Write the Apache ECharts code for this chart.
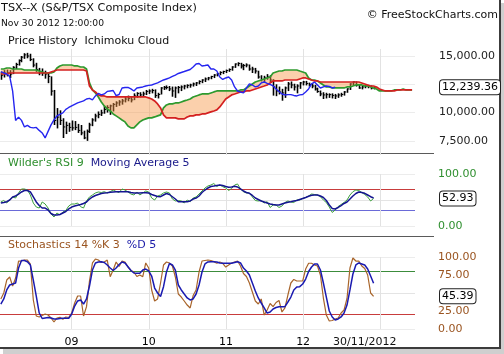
<!DOCTYPE html>
<html><head><meta charset="utf-8">
<script src="https://cdn.jsdelivr.net/npm/echarts@6/dist/echarts.min.js"></script>
<style>html,body{margin:0;padding:0;background:#fff}#c{width:504px;height:354px}</style>
</head><body><div id="c"></div><script>
// ---------- data (bi-weekly samples) ----------
const startDate = '2008-02-01';
const stepDays = 14;
const chikouShift = 13;           // 26 weeks back
const yearTicks = [2009, 2010, 2011, 2012, 2013];
const yearLabels = [2009, 2010, 2011, 2012];
const lastDateLabel = '30/11/2012';

const priceHigh = [13600,13750,13800,13750,14100,14400,14700,15000,15250,15280,
 15200,14800,14400,13950,13900,13700,13500,13200,12000,10400,
 10200,9500,9200,9100,9300,9250,9000,8900,8400,8500,
 9100,9500,9900,10100,10250,10600,10650,10700,10850,11000,
 11100,11200,11400,11500,11450,11700,11800,11800,11850,12000,
 12050,12100,12050,11750,12250,12350,12400,12350,12300,12300,
 12350,12400,12450,12500,12550,12650,12700,12850,12950,13100,
 13150,13250,13400,13500,13650,13700,13800,13900,14100,14350,
 14450,14400,14300,14350,14250,14050,13950,13700,13300,13250,
 13400,13300,12950,12500,12300,12100,12300,12700,12750,12550,
 12500,12700,12800,12800,12650,12600,12450,12200,11950,11800,
 11750,11700,11700,11650,11700,11750,11900,12150,12600,12750,
 12750,12500,12400,12450,12450,12400,12300];
const priceLow = [12900,13100,13200,13050,13400,13850,14150,14450,14750,14800,
 14550,14000,13600,13300,13250,13000,12600,11500,8900,8600,
 8900,7750,8100,8300,8400,8450,8200,8000,7650,7500,
 8200,8800,9200,9500,9700,9900,10000,9800,10100,10500,
 10600,10700,10900,11000,10900,11100,11300,11350,11400,11550,
 11650,11700,11300,11250,11600,12000,12050,11900,11400,11300,
 11700,11900,12050,12150,12200,12300,12350,12500,12600,12700,
 12850,12950,13050,13200,13300,13400,13500,13600,13700,13950,
 14100,13900,13750,14000,13700,13500,13450,13000,12750,12700,
 12900,12700,11500,11450,11600,11050,11300,11900,12150,11950,
 11700,12100,12400,12400,12300,12150,11950,11750,11450,11200,
 11250,11300,11250,11200,11300,11400,11500,11750,12000,12350,
 12300,12100,12050,12150,12150,12050,12050];
const priceClose = [13300,13500,13500,13400,14000,14250,14600,14900,15100,15000,
 14700,14200,13800,13630,13500,13410,13200,11900,9300,9600,
 9310,8730,8870,8690,8645,8690,8425,8200,7760,8340,
 8910,9350,9700,9840,9970,10280,10450,10590,10720,10850,
 10940,11030,11200,11250,11120,11470,11690,11560,11650,11870,
 11910,11950,11500,11600,12175,12220,12220,12090,11910,12175,
 12220,12265,12350,12400,12440,12530,12620,12750,12880,12970,
 13060,13190,13320,13455,13545,13630,13720,13810,14030,14295,
 14340,14120,14160,14205,13850,13850,13675,13145,12925,13060,
 13145,12880,12265,11910,11820,11735,12175,12530,12440,12265,
 12350,12620,12705,12575,12485,12350,12090,11865,11645,11560,
 11585,11585,11515,11470,11560,11600,11820,12090,12530,12705,
 12440,12175,12265,12350,12310,12175,12239.36];
// Senkou span A (green) and B (red), 13 samples beyond the last bar
const senkouA = [13850,13850,13940,13940,13850,13850,13850,13850,13765,13765,
 13765,13765,13765,13675,13590,13500,13500,13500,13590,13940,
 14120,14205,14205,14205,14205,14120,14120,14030,14030,13850,
 12620,12000,11735,11380,10940,10590,10320,10145,9880,9705,
 9530,9350,9175,8820,8645,8645,8910,9175,9350,9440,
 9530,9530,9615,9705,9795,10410,10675,10765,10765,10850,
 10850,10940,11030,11115,11205,11380,11470,11560,11645,11645,
 11645,11735,11825,11910,11910,11910,11910,11910,11910,11910,
 11910,12000,12000,12175,12350,12530,12705,12795,12880,12970,
 13060,13145,13500,13590,13675,13675,13765,13765,13765,13765,
 13765,13675,13590,13500,13060,12880,12880,12795,12620,12440,
 12265,12265,12175,12175,12175,12175,12175,12265,12265,12350,
 12440,12440,12440,12350,12350,12265,12175,12090,11910,11910,
 11910,11910,11910,12000,12000,12000,12090,12000,12000,12000];
const senkouB = [13410,13410,13410,13500,13500,13500,13500,13500,13500,13500,
 13500,13500,13500,13500,13500,13500,13500,13590,13675,13765,
 13765,13765,13765,13765,13765,13765,13765,13765,13765,13675,
 12350,12000,11825,11560,11470,11470,11380,11380,11380,11380,
 11380,11380,11380,11380,11380,11380,11380,11380,11380,11380,
 11295,11205,11030,10765,10410,9795,9530,9530,9530,9530,
 9440,9440,9440,9615,9705,9705,9795,9795,9880,9880,
 9970,10060,10145,10235,10500,10850,11205,11380,11560,11645,
 11735,11825,11825,11910,11910,12000,12090,12175,12265,12350,
 12440,12620,12795,12795,12795,12795,12880,12880,12880,12880,
 12880,12970,13060,13060,12970,12880,12795,12795,12705,12705,
 12705,12705,12705,12705,12705,12705,12705,12705,12705,12705,
 12705,12705,12620,12530,12440,12350,12350,12265,12090,12000,
 11910,11910,11910,11910,12000,12000,12000,12000,12000,12000];
const rsi9 = [46.2,49.0,44.2,50.0,55.8,53.8,63.5,71.2,71.2,69.2,
 59.6,44.2,36.5,34.6,46.2,42.3,34.6,23.1,17.3,25.0,
 21.2,26.9,29.8,38.5,42.3,42.3,44.2,37.1,34.6,48.1,
 55.8,59.6,63.5,65.4,64.4,66.0,63.5,66.0,69.2,66.3,
 64.4,71.2,69.2,65.4,61.5,59.6,65.4,59.6,63.5,67.3,
 65.4,53.8,50.0,57.7,59.6,63.5,65.4,63.5,51.9,48.1,
 49.0,48.1,44.2,50.0,46.7,53.8,55.8,61.5,67.3,73.1,
 76.9,78.8,81.7,76.0,78.8,75.6,73.1,68.3,72.1,78.8,
 80.8,71.2,66.0,63.5,63.5,55.8,49.0,48.1,49.0,44.2,
 46.7,35.6,40.4,40.4,35.6,38.5,45.2,48.1,46.2,45.2,
 50.0,50.0,52.9,54.8,57.7,61.5,60.6,59.6,56.3,50.0,
 45.2,36.5,26.0,30.8,37.5,41.3,45.2,50.0,59.6,66.0,
 69.2,68.3,64.4,60.6,55.8,48.1,52.93];
const rsiMA5 = [44.2,45.2,46.7,50.0,55.8,57.7,61.5,65.4,68.3,68.3,
 65.4,55.8,46.2,39.4,34.6,34.6,30.8,24.0,21.2,21.2,
 22.1,25.0,27.9,32.7,36.5,38.5,40.0,41.3,43.3,46.2,
 51.9,55.8,58.7,60.6,62.5,63.5,64.0,64.8,65.4,66.0,
 66.0,66.0,66.0,66.0,64.4,63.5,63.5,63.5,63.8,64.0,
 63.5,60.6,58.7,56.7,56.3,59.6,62.5,60.6,56.3,51.9,
 46.7,46.7,46.7,46.7,48.1,51.9,53.8,57.7,64.4,69.2,
 73.1,76.0,76.9,77.9,78.8,77.9,76.0,74.4,75.0,76.3,
 75.0,71.2,67.3,64.4,62.9,58.7,53.8,51.0,48.1,46.2,
 44.2,42.3,41.3,40.4,40.4,42.3,44.2,45.8,46.7,48.1,
 49.0,51.0,52.9,54.8,57.1,59.0,59.6,59.6,57.7,54.8,
 49.0,40.4,33.7,32.7,35.6,39.4,43.3,46.2,51.9,57.7,
 62.5,65.4,64.4,62.9,59.6,56.3,53.8];
const stochK = [41.7,50.0,68.0,72.2,59.7,70.8,94.4,94.4,95.8,95.8,
 90.3,40.3,18.1,16.7,18.8,20.8,19.4,15.3,9.7,15.3,
 16.3,13.5,16.7,16.0,22.2,36.1,45.8,45.8,18.1,31.0,
 66.7,91.7,97.2,95.8,92.4,93.1,95.8,72.6,81.9,93.1,
 86.8,94.4,93.1,86.1,81.3,79.2,72.9,75.0,72.6,91.7,
 84.7,54.2,38.9,41.7,63.9,88.9,93.1,91.7,87.5,72.2,
 48.6,44.4,38.9,33.3,29.2,46.5,54.2,79.2,94.4,95.1,
 95.8,95.1,93.5,91.3,93.1,91.3,86.1,88.9,91.7,93.1,
 94.4,87.5,77.1,72.9,63.9,51.4,38.9,34.7,41.7,19.4,
 26.4,35.4,31.0,36.8,39.6,23.6,29.2,47.2,63.9,68.8,
 66.7,66.7,66.7,83.3,91.3,91.3,88.9,87.5,75.0,43.0,
 19.4,11.1,11.8,13.9,15.3,22.2,26.4,42.4,84.7,98.6,
 94.4,94.4,87.5,84.0,75.0,50.0,45.39];
const stochD = [34.7,41.7,54.2,61.1,62.5,63.9,84.7,95.1,95.1,93.5,
 88.9,68.0,45.8,22.2,14.6,15.3,16.0,15.3,13.9,13.9,
 14.6,14.9,14.9,14.9,20.8,31.9,38.9,40.3,34.7,41.7,
 59.7,81.9,91.7,93.1,93.5,92.4,88.9,84.7,81.3,84.7,
 89.6,93.1,91.7,86.5,81.3,77.8,77.4,77.4,81.9,83.3,
 80.6,73.6,56.9,50.0,45.1,58.8,79.2,91.0,88.9,81.9,
 61.1,54.2,48.6,43.1,40.3,41.7,48.6,61.1,79.2,90.3,
 93.1,93.5,93.5,93.1,91.7,91.3,91.3,91.3,91.3,92.4,
 93.5,91.7,84.7,80.6,75.0,63.9,52.8,43.1,36.1,29.2,
 22.2,23.6,27.8,29.9,31.0,31.0,31.0,37.5,44.4,54.2,
 58.3,58.8,62.5,69.4,79.9,86.1,90.3,90.3,81.9,63.9,
 44.4,25.0,16.7,12.5,13.9,16.7,22.2,33.3,54.2,76.4,
 88.9,91.7,90.3,88.9,83.3,73.6,63.5];

// ---------- helpers ----------
const DAY = 86400000;
const t0 = Date.parse(startDate + 'T00:00:00Z');
function decYear(ms){ const d=new Date(ms); const y=d.getUTCFullYear();
  const s=Date.UTC(y,0,1), e=Date.UTC(y+1,0,1); return y + (ms-s)/(e-s); }
const xAt = i => decYear(t0 + i*stepDays*DAY);
const X_MIN = 2008.074, X_MAX = 2013.449;
const FONT = 'DejaVu Sans';
const GRID_RIGHT = 89;

const barsData = priceHigh.map((h,i)=>[xAt(i), priceLow[i], h, priceClose[i]]);
const cloudX = senkouA.map((_,i)=>xAt(i));
const chikouData = priceClose.slice(chikouShift).map((c,j)=>[xAt(j), c]);
const lastClose = priceClose[priceClose.length-1];
const lastRsi = rsi9[rsi9.length-1];
const lastK = stochK[stochK.length-1];

function yearLinesSeries(gi, midVal){
  return {type:'custom', xAxisIndex:gi, yAxisIndex:gi, silent:true, z:0,
    data: yearTicks.map(v=>[v, midVal]),
    renderItem(params, api){
      const cs = params.coordSys;
      const x = Math.round(api.coord([api.value(0), api.value(1)])[0]) + 0.5;
      return {type:'line', shape:{x1:x, y1:cs.y, x2:x, y2:cs.y+cs.height},
        style:{stroke:'#e2e2e2', lineWidth:1}};
    }};
}
// value box drawn right of the plot through the series' own y scale
function boxSeries(gi, value, text){
  return {type:'custom', xAxisIndex:gi, yAxisIndex:gi, silent:true, z:10, clip:false,
    data:[[X_MAX, value]],
    renderItem(params, api){
      const p = api.coord([api.value(0), api.value(1)]);
      return {type:'text', x:p[0]+25, y:p[1], style:{text:text, font:'11px "DejaVu Sans"', fill:'#000',
        verticalAlign:'middle', align:'left', backgroundColor:'#fff', borderColor:'#222', borderWidth:1,
        borderRadius:3, padding:[2,2,1,2]}};
    }};
}
function valueAxis(gi){
  return {type:'value', gridIndex:gi, min:X_MIN, max:X_MAX, show: gi===2,
    axisLine:{show:false}, axisTick:{show:false}, splitLine:{show:false},
    axisLabel: gi===2 ? {customValues: yearLabels, formatter: v=>String(Math.round(v)).slice(2),
      margin:8, color:'#000', fontFamily:FONT, fontSize:11} : {show:false}};
}

const priceLabels = v => (v===7500||v===10000||v===15000) ? v.toLocaleString('en-US',{minimumFractionDigits:2}) : '';

const option = {
  animation:false,
  textStyle:{fontFamily:FONT},
  title:[
    {text:'TSX--X (S&P/TSX Composite Index)', left:1, top:3, padding:0,
      textStyle:{fontFamily:FONT, fontSize:11.3, fontWeight:'normal', color:'#111'}},
    {text:'Nov 30 2012 12:00:00', left:1, top:19.5, padding:0,
      textStyle:{fontFamily:FONT, fontSize:9.2, fontWeight:'normal', color:'#111'}},
    {text:'© FreeStockCharts.com', right:6, top:10, padding:0,
      textStyle:{fontFamily:FONT, fontSize:11, fontWeight:'normal', color:'#111'}},
    {text:'Price History  Ichimoku Cloud', left:8, top:36, padding:0,
      textStyle:{fontFamily:FONT, fontSize:11, fontWeight:'normal', color:'#111'}},
    {text:"{g|Wilder's RSI 9}  {b|Moving Average 5}", left:8, top:158, padding:0,
      textStyle:{fontFamily:FONT, fontSize:11, fontWeight:'normal', rich:{
        g:{color:'#2f8f2f', fontFamily:FONT, fontSize:11, fontWeight:'normal'},
        b:{color:'#1a1a8a', fontFamily:FONT, fontSize:11, fontWeight:'normal'}}}},
    {text:'{k|Stochastics 14 %K 3}  {d|%D 5}', left:8, top:240, padding:0,
      textStyle:{fontFamily:FONT, fontSize:11, fontWeight:'normal', rich:{
        k:{color:'#9a5420', fontFamily:FONT, fontSize:11, fontWeight:'normal'},
        d:{color:'#1a1aa8', fontFamily:FONT, fontSize:11, fontWeight:'normal'}}}}
  ],
  grid:[
    {left:0, right:GRID_RIGHT, top:49, height:106},
    {left:0, right:GRID_RIGHT, top:174, height:52},
    {left:0, right:GRID_RIGHT, top:257, height:72}
  ],
  xAxis:[valueAxis(0), valueAxis(1), valueAxis(2)],
  yAxis:[
    {type:'value', gridIndex:0, position:'right', min:6250, max:15620, interval:1250,
      axisLine:{show:false}, axisTick:{show:false},
      axisLabel:{margin:24, color:'#222', fontFamily:FONT, fontSize:11, formatter:priceLabels},
      splitLine:{show:true, lineStyle:{width:1, color:['transparent','#ececec']}}},
    {type:'value', gridIndex:1, position:'right', min:0, max:100, interval:10,
      axisLine:{show:false}, axisTick:{show:false},
      axisLabel:{margin:23, color:'#2f8f2f', fontFamily:FONT, fontSize:11,
        formatter:v=>(v===0||v===100)?v.toFixed(2):''},
      splitLine:{show:true, lineStyle:{width:1, color:['#ececec','transparent','transparent','#6a6ad8','transparent','#e4e4e4','transparent','#c83c3c','transparent','transparent','#ececec']}}},
    {type:'value', gridIndex:2, position:'right', min:0, max:100, interval:5,
      axisLine:{show:false}, axisTick:{show:false},
      axisLabel:{margin:23, color:'#9a5420', fontFamily:FONT, fontSize:11,
        formatter:v=>(v===0||v===25||v===75||v===100)?v.toFixed(2):''},
      splitLine:{show:true, lineStyle:{width:1, color:['#ececec','transparent','transparent','transparent','#c83c3c','transparent','transparent','transparent','transparent','transparent','#e4e4e4','transparent','transparent','transparent','transparent','transparent','#3c8c3c','transparent','transparent','transparent','#ececec']}}}
  ],
  series:[
    yearLinesSeries(0, 10000), yearLinesSeries(1, 50), yearLinesSeries(2, 50),
    {type:'custom', name:'Price', xAxisIndex:0, yAxisIndex:0, silent:true, z:2, clip:true,
      data: barsData, encode:{x:0, y:[1,2]},
      renderItem(params, api){
        const x = api.value(0);
        const lo = api.coord([x, api.value(1)]);
        const hi = api.coord([x, api.value(2)]);
        const cl = api.coord([x, api.value(3)]);
        const px = Math.round(lo[0]) + 0.5;
        return {type:'group', children:[
          {type:'line', shape:{x1:px, y1:lo[1], x2:px, y2:hi[1]}, style:{stroke:'#000', lineWidth:1.6}},
          {type:'line', shape:{x1:px, y1:cl[1], x2:px+1.8, y2:cl[1]}, style:{stroke:'#000', lineWidth:1}}
        ]};
      }},
    {type:'custom', name:'Cloud', xAxisIndex:0, yAxisIndex:0, silent:true, z:3, clip:true,
      data: cloudX.map((x,i)=>[x, senkouA[i], senkouB[i]]), encode:{x:0, y:[1,2]},
      renderItem(params, api){
        if (params.dataIndex !== 0) return null;
        const pts = [];
        for (let i=0;i<cloudX.length;i++) pts.push(api.coord([cloudX[i], senkouA[i]]));
        for (let i=cloudX.length-1;i>=0;i--) pts.push(api.coord([cloudX[i], senkouB[i]]));
        return {type:'polygon', shape:{points:pts}, style:{fill:'rgba(247,150,70,0.45)'}};
      }},
    {type:'line', name:'Senkou A', xAxisIndex:0, yAxisIndex:0, z:4, showSymbol:false, silent:true,
      data: cloudX.map((x,i)=>[x, senkouA[i]]), lineStyle:{color:'#2e9a2e', width:1.7}},
    {type:'line', name:'Senkou B', xAxisIndex:0, yAxisIndex:0, z:4, showSymbol:false, silent:true,
      data: cloudX.map((x,i)=>[x, senkouB[i]]), lineStyle:{color:'#d42020', width:1.7}},
    {type:'line', name:'Chikou', xAxisIndex:0, yAxisIndex:0, z:5, showSymbol:false, silent:true,
      data: chikouData, lineStyle:{color:'#2525f0', width:1.4}},
    {type:'line', name:"Wilder's RSI 9", xAxisIndex:1, yAxisIndex:1, z:4, showSymbol:false, silent:true,
      data: rsi9.map((v,i)=>[xAt(i), v]), lineStyle:{color:'#3ca03c', width:1}},
    {type:'line', name:'Moving Average 5', xAxisIndex:1, yAxisIndex:1, z:5, showSymbol:false, silent:true,
      data: rsiMA5.map((v,i)=>[xAt(i), v]), lineStyle:{color:'#141490', width:1.5}},
    {type:'line', name:'%K', xAxisIndex:2, yAxisIndex:2, z:4, showSymbol:false, silent:true,
      data: stochK.map((v,i)=>[xAt(i), v]), lineStyle:{color:'#a8642a', width:1.2}},
    {type:'line', name:'%D', xAxisIndex:2, yAxisIndex:2, z:5, showSymbol:false, silent:true,
      data: stochD.map((v,i)=>[xAt(i), v]), lineStyle:{color:'#1a1ab0', width:1.5}},
    boxSeries(0, lastClose, lastClose.toLocaleString('en-US',{minimumFractionDigits:2})),
    boxSeries(1, lastRsi, lastRsi.toFixed(2)),
    boxSeries(2, lastK, lastK.toFixed(2))
  ],
  graphic:[
    {type:'line', silent:true, shape:{x1:0, y1:153.5, x2:434, y2:153.5}, style:{stroke:'#5a5a5a', lineWidth:1}},
    {type:'line', silent:true, shape:{x1:0, y1:236.5, x2:434, y2:236.5}, style:{stroke:'#5a5a5a', lineWidth:1}},
    {type:'rect', silent:true, shape:{x:501, y:3, width:3, height:351}, style:{fill:'#cfcfcf'}},
    {type:'rect', silent:true, shape:{x:3, y:349, width:501, height:5}, style:{fill:'#cfcfcf'}},
    {type:'rect', silent:true, shape:{x:499, y:0, width:2, height:349}, style:{fill:'#3c3c3c'}},
    {type:'rect', silent:true, shape:{x:0, y:347, width:501, height:2}, style:{fill:'#3c3c3c'}},
    {type:'text', silent:true, left:333, top:337, style:{text:lastDateLabel, font:'11px "DejaVu Sans"', fill:'#111'}}
  ]
};
const chart = echarts.init(document.getElementById('c'), null, {renderer:'canvas'});
chart.setOption(option);
</script></body></html>
